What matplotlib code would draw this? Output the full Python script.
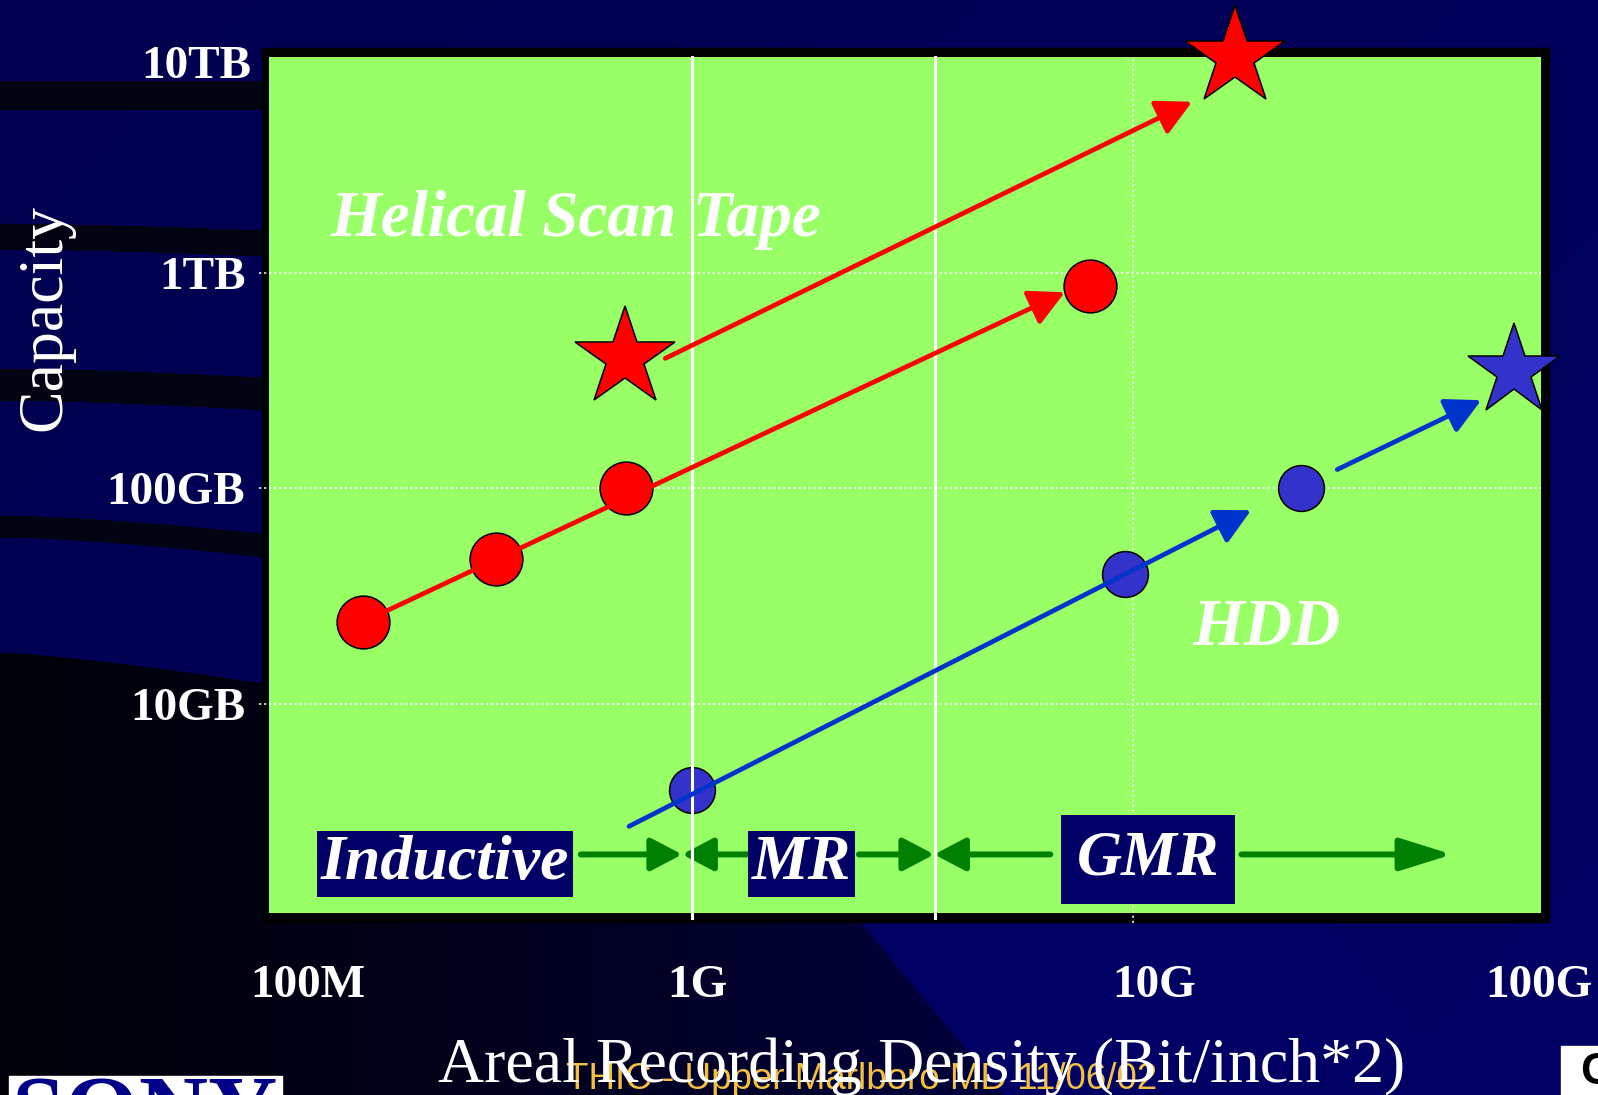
import matplotlib
matplotlib.use('Agg')
import matplotlib.pyplot as plt
import numpy as np
from matplotlib.patches import Rectangle
from matplotlib.ticker import NullLocator

plt.rcParams['font.family'] = ['Liberation Serif', 'DejaVu Serif']

# areal density in bit/inch^2, capacity in GB
tape_density = [1.8e8, 3.6e8, 7.1e8, 8.0e9]
tape_capacity = [24, 47, 100, 870]
tape_star_density = [7.05e8, 1.7e10]
tape_star_capacity = [400, 10000]

hdd_density = [1.0e9, 9.6e9, 2.4e10]
hdd_capacity = [4, 40, 100]
hdd_star_density = [7.3e10]
hdd_star_capacity = [350]

# trend arrows: (density, capacity) start -> end
tape_trend_low = [(1.8e8, 24), (7.0e9, 810)]
tape_trend_high = [(8.7e8, 400), (1.36e10, 6200)]
hdd_trend_low = [(7.2e8, 2.7), (1.85e10, 79)]
hdd_trend_high = [(2.9e10, 122), (6.15e10, 256)]

# read head eras
head_names = ['Inductive', 'MR', 'GMR']
head_bounds = [1.0e9, 3.56e9]
head_arrow_level = 2.0
head_arrows = [(5.6e8, 9.5e8), (1.37e9, 9.5e8), (2.39e9, 3.54e9),
               (6.49e9, 3.54e9), (1.76e10, 5.28e10)]

y_ticks = [10, 100, 1000]
y_tick_labels = ['10GB', '100GB', '1TB']
y_top_label = '10TB'
x_tick_labels = ['100M', '1G', '10G', '100G']

W, H = 1598, 1095
fig = plt.figure(figsize=(W / 100, H / 100), dpi=100)

# slide background
bg = fig.add_axes([0, 0, 1, 1], zorder=-1)
bg.set_xlim(0, W)
bg.set_ylim(H, 0)
bg.axis('off')

yy, xx = np.mgrid[0:H, 0:W].astype(float)
t = np.clip(0.6 * xx / W + 0.4 * yy / H, 0, 1)
img = np.zeros((H, W, 3))
img[..., 2] = (78 + 22 * t) / 255

bands = [(81, 81, 109, 109), (223, 230, 249, 256),
         (368, 377, 400, 410), (515, 533, 537, 557)]
for t0, t1, b0, b1 in bands:
    top = t0 + (t1 - t0) * (xx / 262) ** 1.5
    bot = b0 + (b1 - b0) * (xx / 262) ** 1.5
    m = (yy >= top) & (yy <= bot) & (xx < 400)
    img[m] = [0.012, 0.012, 0.075]

corner = (yy > 652 + 31 * (xx / 262) ** 1.3) & (xx < 95 + 0.83 * yy)
shade = np.clip(xx / 1000, 0, 1) ** 1.3
img[corner, 0] = 0.004
img[corner, 1] = 0.004
img[corner, 2] = (10 + 50 * shade[corner]) / 255
stripe = (xx > 95 + 0.83 * yy) & (xx < 560 + 0.83 * yy) & (yy > 880)
img[stripe, 2] = 100 / 255

bg.imshow(img, extent=(0, W, H, 0), aspect='auto', interpolation='bilinear')
bg.add_patch(Rectangle((262, 48), 1287, 874, color='black'))
bg.add_patch(Rectangle((9, 1076), 273, 30, color='white'))
bg.add_patch(Rectangle((1561, 1046), 40, 60, color='white'))

# chart area
ax = fig.add_axes([269 / W, 1 - 913 / H, 1272 / W, 856 / H])
ax.set_facecolor('#99FF66')
ax.set_xscale('log')
ax.set_yscale('log')
ax.set_xlim(1.1e8, 8.4e10)
ax.set_ylim(1.07, 1.0e4)
for s in ax.spines.values():
    s.set_visible(False)

ax.set_xticks([])
ax.xaxis.set_minor_locator(NullLocator())
ax.set_yticks(y_ticks, y_tick_labels)
ax.yaxis.set_minor_locator(NullLocator())
ax.tick_params(axis='y', length=0, pad=17, labelsize=34, labelcolor='white')
for lbl in ax.get_yticklabels():
    lbl.set_fontweight('bold')
ax.annotate(y_top_label, xy=(0, 1.0e4), xycoords=ax.get_yaxis_transform(),
            xytext=(-13, -7), textcoords='offset points', ha='right', va='center',
            fontsize=34, fontweight='bold', color='white', annotation_clip=False)

# dotted grid
for v in y_ticks:
    ax.plot([-0.008, 1], [v, v], transform=ax.get_yaxis_transform(),
            color='white', lw=1.1, ls=(0, (1.5, 1.8)), clip_on=False, zorder=1)
ax.plot([1e10, 1e10], [-0.012, 1], transform=ax.get_xaxis_transform(),
        color='white', lw=1.1, ls=(0, (1.5, 1.8)), clip_on=False, zorder=1)

# head era boundaries
for b in head_bounds:
    ax.axvline(b, ymin=-0.006, ymax=1, color='white', lw=2.2, zorder=5, clip_on=False)

for i, (x0, x1) in enumerate(head_arrows):
    hl = 32 if i == len(head_arrows) - 1 else 19
    ax.annotate('', xy=(x1, head_arrow_level), xytext=(x0, head_arrow_level),
                arrowprops=dict(arrowstyle='-|>,head_length=%g,head_width=10' % hl,
                                mutation_scale=1, color='#008000', lw=4.3,
                                shrinkA=0, shrinkB=0), zorder=2)

head_label_pos = [(2.76e8, 1.81), (1.77e9, 1.81), (1.08e10, 1.89)]
head_pads = [0.06, 0.06, 0.25]
head_sizes = [46, 46, 45]
for name, (hx, hy), pad, fs in zip(head_names, head_label_pos, head_pads, head_sizes):
    ax.text(hx, hy, name, fontsize=fs, fontweight='bold', style='italic',
            color='white', ha='center', va='center', zorder=3,
            bbox=dict(boxstyle='square,pad=%g' % pad, fc='#000066', ec='none'))

# data points
ax.plot(tape_density, tape_capacity, 'o', ms=38, mfc='#FF0000', mec='black',
        mew=1.1, zorder=4)
ax.plot(hdd_density, hdd_capacity, 'o', ms=33, mfc='#3333CC', mec='black',
        mew=1.1, zorder=4)


def trend(start, end, color):
    ax.annotate('', xy=end, xytext=start,
                arrowprops=dict(arrowstyle='-|>,head_length=21.6,head_width=11.2',
                                mutation_scale=1, color=color, lw=3.4,
                                shrinkA=0, shrinkB=0), zorder=6)


trend(tape_trend_low[0], tape_trend_low[1], '#FF0000')
trend(tape_trend_high[0], tape_trend_high[1], '#FF0000')
trend(hdd_trend_low[0], hdd_trend_low[1], '#0033CC')
trend(hdd_trend_high[0], hdd_trend_high[1], '#0033CC')

ax.plot(tape_star_density, tape_star_capacity, '*', ms=75, mfc='#FF0000',
        mec='black', mew=1.1, zorder=8, clip_on=False)
ax.plot(hdd_star_density, hdd_star_capacity, '*', ms=69, mfc='#3333CC',
        mec='black', mew=1.1, zorder=8, clip_on=False)

ax.text(1.52e8, 1476, 'Helical Scan Tape', fontsize=47, fontweight='bold',
        style='italic', color='white', ha='left', va='baseline', zorder=3)
ax.text(1.36e10, 18.7, 'HDD', fontsize=48, fontweight='bold',
        style='italic', color='white', ha='left', va='baseline', zorder=3)

# density labels under the chart
x_label_pos = [0.0307, 0.3365, 0.6958, 0.9984]
for f, s in zip(x_label_pos, x_tick_labels):
    ax.text(f, -0.0981, s, transform=ax.transAxes, ha='center', va='baseline',
            fontsize=34, fontweight='bold', color='white', clip_on=False)

fig.text(45 / W, 1 - 318 / H, 'Capacity', rotation=90, fontsize=46,
         color='white', ha='center', va='center')
fig.text(566 / W, 1 - 1089 / H, 'THIC - Upper Marlboro MD 11/06/02',
         fontsize=26.5, family='Liberation Sans', color='#F5C040',
         ha='left', va='baseline')
fig.text(922 / W, 1 - 1082 / H, 'Areal Recording Density (Bit/inch*2)',
         fontsize=46, color='white', ha='center', va='baseline')
fig.text(145 / W, 1 - 1142 / H, 'SONY', fontsize=69, fontweight='bold',
         color='#000088', ha='center', va='baseline')
fig.text(1580 / W, 1 - 1052 / H, 'C', fontsize=32, fontweight='bold',
         family='Liberation Sans', color='black', ha='left', va='top')

fig.savefig('out.png', dpi=100)
